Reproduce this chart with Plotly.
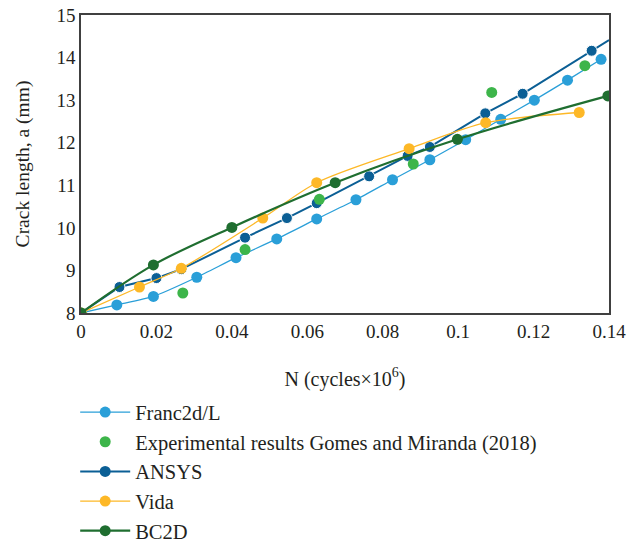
import plotly.graph_objects as go

# Franc2d/L
franc_x = [0, 0.0095, 0.0192, 0.0307, 0.0411, 0.0519, 0.0625, 0.0729, 0.0826, 0.0925, 0.102, 0.1113, 0.1202, 0.129, 0.1379]
franc_y = [8.0, 8.19, 8.39, 8.84, 9.30, 9.74, 10.21, 10.66, 11.13, 11.60, 12.07, 12.55, 13.00, 13.47, 13.96]

# Experimental results Gomes and Miranda (2018)
exp_x = [0, 0.027, 0.0435, 0.0632, 0.0881, 0.1089, 0.1336]
exp_y = [8.0, 8.47, 9.49, 10.67, 11.50, 13.18, 13.81]

# ANSYS
ansys_x = [0, 0.0102, 0.0200, 0.0266, 0.0435, 0.0546, 0.0625, 0.0764, 0.0866, 0.0925, 0.1072, 0.1171, 0.1354, 0.14]
ansys_y = [8.0, 8.61, 8.82, 9.03, 9.77, 10.23, 10.58, 11.21, 11.69, 11.90, 12.69, 13.15, 14.16, 14.41]

# Vida
vida_x = [0, 0.0155, 0.0266, 0.0482, 0.0625, 0.0870, 0.1073, 0.1321]
vida_y = [8.0, 8.61, 9.05, 10.23, 11.06, 11.86, 12.47, 12.71]

# BC2D
bc_x = [0, 0.0192, 0.0400, 0.0674, 0.0998, 0.1397]
bc_y = [8.0, 9.13, 10.01, 11.06, 12.08, 13.10]

names = ["Franc2d/L", "Experimental results Gomes and Miranda (2018)", "ANSYS", "Vida", "BC2D"]
colors = ["#2A9FD8", "#3DB54A", "#0B5F95", "#FDB827", "#1F6E30"]

MS = 11
fig = go.Figure()
fig.add_trace(go.Scatter(x=franc_x, y=franc_y, name=names[0], mode="lines+markers",
                         line=dict(color=colors[0], width=1.3, shape="spline", smoothing=0.6),
                         marker=dict(size=MS, color=colors[0], opacity=1), legendgroup="a"))
fig.add_trace(go.Scatter(x=ansys_x, y=ansys_y, name=names[2], mode="lines+markers",
                         line=dict(color=colors[2], width=2),
                         marker=dict(size=[MS] * (len(ansys_x) - 1) + [0], color=colors[2], opacity=1),
                         legendgroup="c", showlegend=False))
fig.add_trace(go.Scatter(x=exp_x, y=exp_y, name=names[1], mode="markers",
                         marker=dict(size=MS, color=colors[1], opacity=1), legendgroup="b"))
# legend-only ANSYS entry (to keep legend order and uniform marker)
fig.add_trace(go.Scatter(x=[None], y=[None], name=names[2], mode="lines+markers",
                         line=dict(color=colors[2], width=2),
                         marker=dict(size=MS, color=colors[2], opacity=1), legendgroup="c"))
fig.add_trace(go.Scatter(x=vida_x, y=vida_y, name=names[3], mode="lines+markers",
                         line=dict(color=colors[3], width=1.3, shape="spline", smoothing=0.8),
                         marker=dict(size=MS, color=colors[3], opacity=1), legendgroup="d"))
fig.add_trace(go.Scatter(x=bc_x, y=bc_y, name=names[4], mode="lines+markers",
                         line=dict(color=colors[4], width=2.2, shape="spline", smoothing=1.0),
                         marker=dict(size=MS, color=colors[4], opacity=1), legendgroup="e"))

axis_common = dict(showgrid=False, zeroline=False, showline=True, linecolor="#404040",
                   linewidth=1.5, mirror=True, ticks="",
                   tickfont=dict(family="Liberation Serif", size=19, color="#231F20"))

fig.update_layout(
    width=628, height=547,
    margin=dict(l=81, r=19, t=15, b=234, autoexpand=False),
    paper_bgcolor="white", plot_bgcolor="white",
    font=dict(family="Liberation Serif", size=17, color="#231F20"),
    xaxis=dict(range=[0, 0.14], tickvals=[0, 0.02, 0.04, 0.06, 0.08, 0.1, 0.12, 0.14],
               ticktext=["0", "0.02", "0.04", "0.06", "0.08", "0.1", "0.12", "0.14"],
               title=dict(text="N (cycles×10<sup>6</sup>)", font=dict(size=20), standoff=31),
               **axis_common),
    yaxis=dict(range=[8, 15], dtick=1,
               title=dict(text="Crack length, a (mm)", font=dict(size=19.5), standoff=22),
               **axis_common),
    legend=dict(x=-0.011, y=-0.266, xanchor="left", yanchor="top", itemwidth=50,
                font=dict(family="Liberation Serif", size=20.5, color="#231F20"),
                tracegroupgap=0, bgcolor="rgba(0,0,0,0)"),
    showlegend=True,
)

fig.write_html("out.html")
